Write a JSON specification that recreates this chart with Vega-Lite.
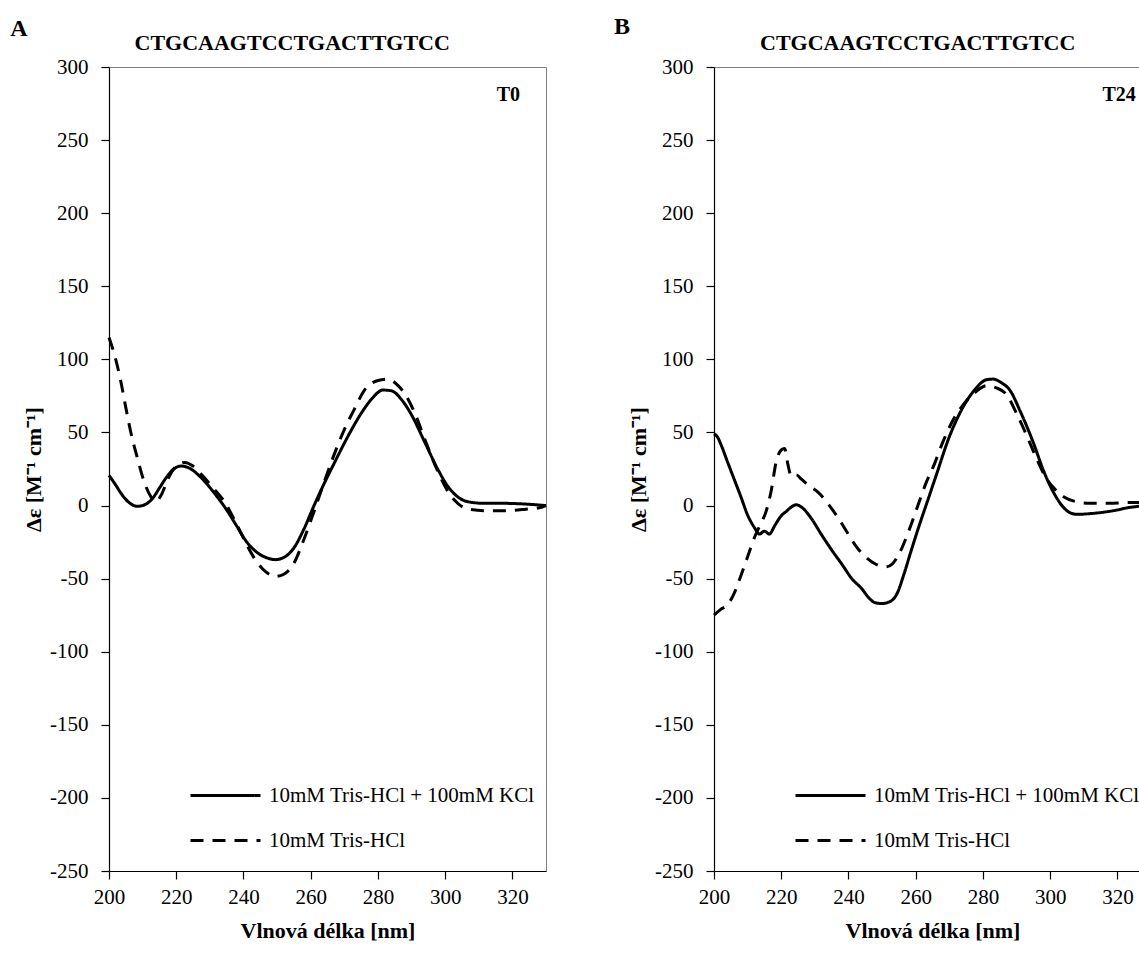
{
  "$schema": "https://vega.github.io/schema/vega-lite/v6.json",
  "background": "white",
  "padding": {"left": 9, "top": 14, "right": 0, "bottom": 5},
  "bounds": "flush",
  "spacing": 168,
  "config": {
    "font": "Liberation Serif",
    "view": {"stroke": "#808080", "strokeWidth": 1},
    "axis": {
      "labelFont": "Liberation Serif", "labelFontSize": 21, "labelColor": "black",
      "titleFont": "Liberation Serif", "titleFontSize": 22, "titleFontWeight": "bold", "titleColor": "black",
      "domainColor": "black", "domainWidth": 1.2, "tickColor": "black", "tickWidth": 1.2, "tickSize": 8, "grid": false
    },
    "legend": {
      "symbolType": "M-3.5,0H3.5", "symbolSize": 400, "symbolStrokeWidth": 3, "symbolStrokeColor": "black",
      "labelFont": "Liberation Serif", "labelFontSize": 21, "labelColor": "black", "labelOffset": 32,
      "rowPadding": 23, "padding": 0, "labelLimit": 500
    }
  },
  "resolve": {"scale": {"x": "independent", "y": "independent", "strokeDash": "independent"}, "legend": {"strokeDash": "independent"}},
  "hconcat": [
    {
      "width": 437, "height": 804,
      "layer": [
        {
          "data": {"values": [
            {"s":"10mM Tris-HCl + 100mM KCl","wl":200,"de":20.7},{"s":"10mM Tris-HCl + 100mM KCl","wl":202,"de":14},{"s":"10mM Tris-HCl + 100mM KCl","wl":204,"de":7},{"s":"10mM Tris-HCl + 100mM KCl","wl":206,"de":2},{"s":"10mM Tris-HCl + 100mM KCl","wl":208.5,"de":-0.5},{"s":"10mM Tris-HCl + 100mM KCl","wl":211,"de":1},{"s":"10mM Tris-HCl + 100mM KCl","wl":213,"de":5},{"s":"10mM Tris-HCl + 100mM KCl","wl":215,"de":12},{"s":"10mM Tris-HCl + 100mM KCl","wl":217,"de":19},{"s":"10mM Tris-HCl + 100mM KCl","wl":219,"de":24.5},{"s":"10mM Tris-HCl + 100mM KCl","wl":221.4,"de":27},{"s":"10mM Tris-HCl + 100mM KCl","wl":224,"de":25.5},{"s":"10mM Tris-HCl + 100mM KCl","wl":227,"de":20},{"s":"10mM Tris-HCl + 100mM KCl","wl":231,"de":9.5},{"s":"10mM Tris-HCl + 100mM KCl","wl":235,"de":-3},{"s":"10mM Tris-HCl + 100mM KCl","wl":238,"de":-14},{"s":"10mM Tris-HCl + 100mM KCl","wl":241,"de":-25},{"s":"10mM Tris-HCl + 100mM KCl","wl":244,"de":-32},{"s":"10mM Tris-HCl + 100mM KCl","wl":247,"de":-35.8},{"s":"10mM Tris-HCl + 100mM KCl","wl":249.5,"de":-37},{"s":"10mM Tris-HCl + 100mM KCl","wl":252,"de":-35.5},{"s":"10mM Tris-HCl + 100mM KCl","wl":255,"de":-29},{"s":"10mM Tris-HCl + 100mM KCl","wl":258,"de":-16},{"s":"10mM Tris-HCl + 100mM KCl","wl":261,"de":0},{"s":"10mM Tris-HCl + 100mM KCl","wl":264,"de":15},{"s":"10mM Tris-HCl + 100mM KCl","wl":267,"de":29},{"s":"10mM Tris-HCl + 100mM KCl","wl":271,"de":47},{"s":"10mM Tris-HCl + 100mM KCl","wl":275,"de":63},{"s":"10mM Tris-HCl + 100mM KCl","wl":278,"de":72.5},{"s":"10mM Tris-HCl + 100mM KCl","wl":281.5,"de":79},{"s":"10mM Tris-HCl + 100mM KCl","wl":284,"de":78.5},{"s":"10mM Tris-HCl + 100mM KCl","wl":287,"de":72.5},{"s":"10mM Tris-HCl + 100mM KCl","wl":290,"de":62},{"s":"10mM Tris-HCl + 100mM KCl","wl":294,"de":43},{"s":"10mM Tris-HCl + 100mM KCl","wl":298,"de":24},{"s":"10mM Tris-HCl + 100mM KCl","wl":301,"de":12.5},{"s":"10mM Tris-HCl + 100mM KCl","wl":304,"de":5.5},{"s":"10mM Tris-HCl + 100mM KCl","wl":307,"de":2.5},{"s":"10mM Tris-HCl + 100mM KCl","wl":312,"de":1.5},{"s":"10mM Tris-HCl + 100mM KCl","wl":318,"de":1.5},{"s":"10mM Tris-HCl + 100mM KCl","wl":324,"de":1},{"s":"10mM Tris-HCl + 100mM KCl","wl":330,"de":0},
            {"s":"10mM Tris-HCl","wl":200,"de":115},{"s":"10mM Tris-HCl","wl":202,"de":100},{"s":"10mM Tris-HCl","wl":203.5,"de":85},{"s":"10mM Tris-HCl","wl":205,"de":67},{"s":"10mM Tris-HCl","wl":206.5,"de":50},{"s":"10mM Tris-HCl","wl":208.5,"de":32},{"s":"10mM Tris-HCl","wl":210.5,"de":16},{"s":"10mM Tris-HCl","wl":212.5,"de":6},{"s":"10mM Tris-HCl","wl":214,"de":3},{"s":"10mM Tris-HCl","wl":215.5,"de":7},{"s":"10mM Tris-HCl","wl":217.5,"de":18},{"s":"10mM Tris-HCl","wl":220,"de":27},{"s":"10mM Tris-HCl","wl":222.5,"de":29.5},{"s":"10mM Tris-HCl","wl":225,"de":27},{"s":"10mM Tris-HCl","wl":228,"de":20},{"s":"10mM Tris-HCl","wl":231,"de":12},{"s":"10mM Tris-HCl","wl":234.5,"de":2},{"s":"10mM Tris-HCl","wl":238,"de":-13},{"s":"10mM Tris-HCl","wl":241,"de":-27},{"s":"10mM Tris-HCl","wl":243.5,"de":-37},{"s":"10mM Tris-HCl","wl":246.5,"de":-45},{"s":"10mM Tris-HCl","wl":249.5,"de":-48.5},{"s":"10mM Tris-HCl","wl":252,"de":-47},{"s":"10mM Tris-HCl","wl":255,"de":-39.5},{"s":"10mM Tris-HCl","wl":258,"de":-23},{"s":"10mM Tris-HCl","wl":261,"de":-4},{"s":"10mM Tris-HCl","wl":264,"de":16},{"s":"10mM Tris-HCl","wl":267,"de":35},{"s":"10mM Tris-HCl","wl":270,"de":52},{"s":"10mM Tris-HCl","wl":273,"de":66},{"s":"10mM Tris-HCl","wl":276,"de":79},{"s":"10mM Tris-HCl","wl":280,"de":85.5},{"s":"10mM Tris-HCl","wl":283,"de":86.5},{"s":"10mM Tris-HCl","wl":286,"de":82},{"s":"10mM Tris-HCl","wl":288,"de":76.5},{"s":"10mM Tris-HCl","wl":291,"de":63},{"s":"10mM Tris-HCl","wl":294,"de":45},{"s":"10mM Tris-HCl","wl":297.5,"de":25},{"s":"10mM Tris-HCl","wl":301,"de":9},{"s":"10mM Tris-HCl","wl":304,"de":1},{"s":"10mM Tris-HCl","wl":307,"de":-2.5},{"s":"10mM Tris-HCl","wl":312,"de":-3.5},{"s":"10mM Tris-HCl","wl":318,"de":-3.5},{"s":"10mM Tris-HCl","wl":324,"de":-2.5},{"s":"10mM Tris-HCl","wl":328,"de":-1.5},{"s":"10mM Tris-HCl","wl":330,"de":0}
          ]},
          "mark": {"type": "line", "interpolate": "monotone", "strokeWidth": 3, "color": "black"},
          "encoding": {
            "x": {"field": "wl", "type": "quantitative", "title": "Vlnová délka [nm]", "scale": {"domain": [200, 330], "nice": false, "zero": false}, "axis": {"values": [200, 220, 240, 260, 280, 300, 320], "labelPadding": 7, "titlePadding": 13, "labelFlush": false}},
            "y": {"field": "de", "type": "quantitative", "title": "Δε [M⁻¹ cm⁻¹]", "scale": {"domain": [-250, 300], "nice": false, "zero": false}, "axis": {"values": [-250, -200, -150, -100, -50, 0, 50, 100, 150, 200, 250, 300], "labelExpr": "datum.value + ''", "labelPadding": 13, "titlePadding": 4, "labelFlush": false}},
            "strokeDash": {"field": "s", "type": "nominal", "scale": {"domain": ["10mM Tris-HCl + 100mM KCl", "10mM Tris-HCl"], "range": [[1, 0], [13, 9]]}, "legend": {"orient": "none", "legendX": 105, "legendY": 717, "title": null}}
          }
        },
        {
          "data": {"values": [{"t": "T0", "wl": 318.8, "de": 281}]},
          "mark": {"type": "text", "fontSize": 20, "fontWeight": "bold", "font": "Liberation Serif", "color": "black"},
          "encoding": {"x": {"field": "wl", "type": "quantitative"}, "y": {"field": "de", "type": "quantitative"}, "text": {"field": "t"}}
        },
        {
          "data": {"values": [{"t": "CTGCAAGTCCTGACTTGTCC", "wl": 254.5, "de": 300}]},
          "mark": {"type": "text", "fontSize": 22, "fontWeight": "bold", "font": "Liberation Serif", "color": "black", "dy": -24},
          "encoding": {"x": {"field": "wl", "type": "quantitative"}, "y": {"field": "de", "type": "quantitative"}, "text": {"field": "t"}}
        },
        {
          "data": {"values": [{"t": "A", "wl": 200, "de": 300}]},
          "mark": {"type": "text", "fontSize": 24, "fontWeight": "bold", "font": "Liberation Serif", "color": "black", "dx": -90, "dy": -38},
          "encoding": {"x": {"field": "wl", "type": "quantitative"}, "y": {"field": "de", "type": "quantitative"}, "text": {"field": "t"}}
        }
      ]
    },
    {
      "width": 437, "height": 804,
      "layer": [
        {
          "data": {"values": [
            {"s":"10mM Tris-HCl + 100mM KCl","wl":200,"de":49},{"s":"10mM Tris-HCl + 100mM KCl","wl":201,"de":47},{"s":"10mM Tris-HCl + 100mM KCl","wl":202.2,"de":41},{"s":"10mM Tris-HCl + 100mM KCl","wl":204,"de":30},{"s":"10mM Tris-HCl + 100mM KCl","wl":206,"de":18},{"s":"10mM Tris-HCl + 100mM KCl","wl":208,"de":6},{"s":"10mM Tris-HCl + 100mM KCl","wl":210,"de":-6.5},{"s":"10mM Tris-HCl + 100mM KCl","wl":212,"de":-15},{"s":"10mM Tris-HCl + 100mM KCl","wl":213.5,"de":-19.5},{"s":"10mM Tris-HCl + 100mM KCl","wl":215,"de":-17.5},{"s":"10mM Tris-HCl + 100mM KCl","wl":216.5,"de":-19.5},{"s":"10mM Tris-HCl + 100mM KCl","wl":218,"de":-14},{"s":"10mM Tris-HCl + 100mM KCl","wl":220,"de":-7},{"s":"10mM Tris-HCl + 100mM KCl","wl":221.5,"de":-4},{"s":"10mM Tris-HCl + 100mM KCl","wl":223,"de":-1},{"s":"10mM Tris-HCl + 100mM KCl","wl":224.5,"de":0.5},{"s":"10mM Tris-HCl + 100mM KCl","wl":226.5,"de":-2},{"s":"10mM Tris-HCl + 100mM KCl","wl":229,"de":-9},{"s":"10mM Tris-HCl + 100mM KCl","wl":232,"de":-20},{"s":"10mM Tris-HCl + 100mM KCl","wl":235.5,"de":-32},{"s":"10mM Tris-HCl + 100mM KCl","wl":238,"de":-40},{"s":"10mM Tris-HCl + 100mM KCl","wl":241,"de":-50},{"s":"10mM Tris-HCl + 100mM KCl","wl":244,"de":-57},{"s":"10mM Tris-HCl + 100mM KCl","wl":246,"de":-63},{"s":"10mM Tris-HCl + 100mM KCl","wl":248,"de":-66.5},{"s":"10mM Tris-HCl + 100mM KCl","wl":250,"de":-67},{"s":"10mM Tris-HCl + 100mM KCl","wl":252.5,"de":-65.5},{"s":"10mM Tris-HCl + 100mM KCl","wl":254.5,"de":-60},{"s":"10mM Tris-HCl + 100mM KCl","wl":256.5,"de":-47},{"s":"10mM Tris-HCl + 100mM KCl","wl":258.5,"de":-32},{"s":"10mM Tris-HCl + 100mM KCl","wl":261,"de":-14},{"s":"10mM Tris-HCl + 100mM KCl","wl":263.5,"de":3},{"s":"10mM Tris-HCl + 100mM KCl","wl":266,"de":20},{"s":"10mM Tris-HCl + 100mM KCl","wl":270,"de":47},{"s":"10mM Tris-HCl + 100mM KCl","wl":274,"de":67},{"s":"10mM Tris-HCl + 100mM KCl","wl":277.5,"de":79},{"s":"10mM Tris-HCl + 100mM KCl","wl":281,"de":86},{"s":"10mM Tris-HCl + 100mM KCl","wl":283,"de":86.5},{"s":"10mM Tris-HCl + 100mM KCl","wl":285.5,"de":84},{"s":"10mM Tris-HCl + 100mM KCl","wl":288,"de":79},{"s":"10mM Tris-HCl + 100mM KCl","wl":291,"de":65},{"s":"10mM Tris-HCl + 100mM KCl","wl":295,"de":43},{"s":"10mM Tris-HCl + 100mM KCl","wl":298,"de":24},{"s":"10mM Tris-HCl + 100mM KCl","wl":301,"de":9},{"s":"10mM Tris-HCl + 100mM KCl","wl":303.5,"de":0},{"s":"10mM Tris-HCl + 100mM KCl","wl":306,"de":-5},{"s":"10mM Tris-HCl + 100mM KCl","wl":308,"de":-6},{"s":"10mM Tris-HCl + 100mM KCl","wl":312,"de":-5.5},{"s":"10mM Tris-HCl + 100mM KCl","wl":316,"de":-4.5},{"s":"10mM Tris-HCl + 100mM KCl","wl":320,"de":-3},{"s":"10mM Tris-HCl + 100mM KCl","wl":323,"de":-1.5},{"s":"10mM Tris-HCl + 100mM KCl","wl":326.5,"de":-0.5},{"s":"10mM Tris-HCl + 100mM KCl","wl":330,"de":0},
            {"s":"10mM Tris-HCl","wl":200,"de":-75},{"s":"10mM Tris-HCl","wl":202,"de":-71},{"s":"10mM Tris-HCl","wl":204,"de":-68},{"s":"10mM Tris-HCl","wl":206,"de":-60},{"s":"10mM Tris-HCl","wl":208,"de":-48},{"s":"10mM Tris-HCl","wl":210,"de":-35},{"s":"10mM Tris-HCl","wl":212,"de":-22},{"s":"10mM Tris-HCl","wl":214,"de":-12},{"s":"10mM Tris-HCl","wl":215.5,"de":-4},{"s":"10mM Tris-HCl","wl":217,"de":10},{"s":"10mM Tris-HCl","wl":218.5,"de":30},{"s":"10mM Tris-HCl","wl":220,"de":38},{"s":"10mM Tris-HCl","wl":221,"de":39},{"s":"10mM Tris-HCl","wl":222,"de":28},{"s":"10mM Tris-HCl","wl":223,"de":20},{"s":"10mM Tris-HCl","wl":224.5,"de":21},{"s":"10mM Tris-HCl","wl":226,"de":18},{"s":"10mM Tris-HCl","wl":228,"de":14},{"s":"10mM Tris-HCl","wl":231,"de":9},{"s":"10mM Tris-HCl","wl":234,"de":1},{"s":"10mM Tris-HCl","wl":236.5,"de":-7},{"s":"10mM Tris-HCl","wl":239,"de":-16},{"s":"10mM Tris-HCl","wl":242,"de":-27},{"s":"10mM Tris-HCl","wl":245,"de":-35},{"s":"10mM Tris-HCl","wl":248,"de":-40},{"s":"10mM Tris-HCl","wl":251,"de":-42},{"s":"10mM Tris-HCl","wl":253,"de":-40},{"s":"10mM Tris-HCl","wl":255.5,"de":-31},{"s":"10mM Tris-HCl","wl":258,"de":-17},{"s":"10mM Tris-HCl","wl":260.5,"de":-1},{"s":"10mM Tris-HCl","wl":263,"de":15},{"s":"10mM Tris-HCl","wl":265.5,"de":28},{"s":"10mM Tris-HCl","wl":268,"de":43},{"s":"10mM Tris-HCl","wl":271,"de":58},{"s":"10mM Tris-HCl","wl":274.5,"de":70},{"s":"10mM Tris-HCl","wl":278,"de":78},{"s":"10mM Tris-HCl","wl":281,"de":82},{"s":"10mM Tris-HCl","wl":284,"de":80.5},{"s":"10mM Tris-HCl","wl":287,"de":76},{"s":"10mM Tris-HCl","wl":290,"de":63},{"s":"10mM Tris-HCl","wl":293,"de":48},{"s":"10mM Tris-HCl","wl":296,"de":32},{"s":"10mM Tris-HCl","wl":299,"de":18},{"s":"10mM Tris-HCl","wl":301.5,"de":11},{"s":"10mM Tris-HCl","wl":304,"de":6},{"s":"10mM Tris-HCl","wl":308,"de":2.5},{"s":"10mM Tris-HCl","wl":312,"de":1.5},{"s":"10mM Tris-HCl","wl":318,"de":1.5},{"s":"10mM Tris-HCl","wl":322,"de":2},{"s":"10mM Tris-HCl","wl":326.5,"de":2},{"s":"10mM Tris-HCl","wl":330,"de":1.5}
          ]},
          "mark": {"type": "line", "interpolate": "monotone", "strokeWidth": 3, "color": "black"},
          "encoding": {
            "x": {"field": "wl", "type": "quantitative", "title": "Vlnová délka [nm]", "scale": {"domain": [200, 330], "nice": false, "zero": false}, "axis": {"values": [200, 220, 240, 260, 280, 300, 320], "labelPadding": 7, "titlePadding": 13, "labelFlush": false}},
            "y": {"field": "de", "type": "quantitative", "title": "Δε [M⁻¹ cm⁻¹]", "scale": {"domain": [-250, 300], "nice": false, "zero": false}, "axis": {"values": [-250, -200, -150, -100, -50, 0, 50, 100, 150, 200, 250, 300], "labelExpr": "datum.value + ''", "labelPadding": 13, "titlePadding": 4, "labelFlush": false}},
            "strokeDash": {"field": "s", "type": "nominal", "scale": {"domain": ["10mM Tris-HCl + 100mM KCl", "10mM Tris-HCl"], "range": [[1, 0], [13, 9]]}, "legend": {"orient": "none", "legendX": 105, "legendY": 717, "title": null}}
          }
        },
        {
          "data": {"values": [{"t": "T24", "wl": 320.5, "de": 281}]},
          "mark": {"type": "text", "fontSize": 20, "fontWeight": "bold", "font": "Liberation Serif", "color": "black"},
          "encoding": {"x": {"field": "wl", "type": "quantitative"}, "y": {"field": "de", "type": "quantitative"}, "text": {"field": "t"}}
        },
        {
          "data": {"values": [{"t": "CTGCAAGTCCTGACTTGTCC", "wl": 260.6, "de": 300}]},
          "mark": {"type": "text", "fontSize": 22, "fontWeight": "bold", "font": "Liberation Serif", "color": "black", "dy": -24},
          "encoding": {"x": {"field": "wl", "type": "quantitative"}, "y": {"field": "de", "type": "quantitative"}, "text": {"field": "t"}}
        },
        {
          "data": {"values": [{"t": "B", "wl": 200, "de": 300}]},
          "mark": {"type": "text", "fontSize": 24, "fontWeight": "bold", "font": "Liberation Serif", "color": "black", "dx": -92, "dy": -40},
          "encoding": {"x": {"field": "wl", "type": "quantitative"}, "y": {"field": "de", "type": "quantitative"}, "text": {"field": "t"}}
        }
      ]
    }
  ]
}
